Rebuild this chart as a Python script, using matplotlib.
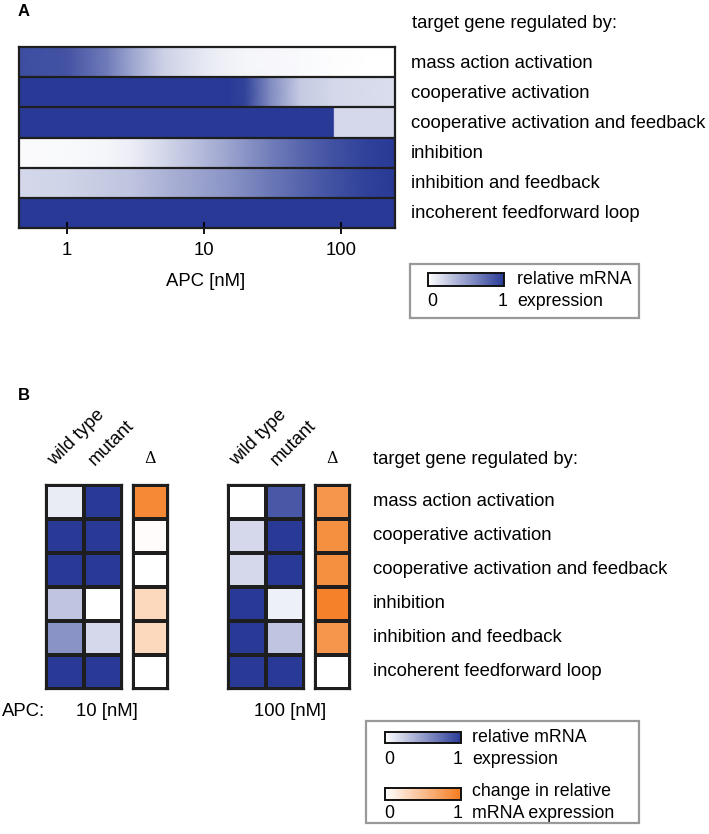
import numpy as np
import matplotlib
matplotlib.use('Agg')
import matplotlib.pyplot as plt
from matplotlib.colors import LinearSegmentedColormap, Normalize
from matplotlib.cm import ScalarMappable
from matplotlib.patches import Rectangle

plt.rcParams['font.family'] = ['Liberation Sans', 'DejaVu Sans']

# ---- data ----
row_labels = ['mass action activation', 'cooperative activation',
              'cooperative activation and feedback', 'inhibition',
              'inhibition and feedback', 'incoherent feedforward loop']

# panel A: relative mRNA expression vs APC [nM]
apc_conc = [0.447, 1, 2, 3, 5, 10, 15, 20, 30, 50, 88, 90, 150, 248]
expr_mass_action = [0.9, 0.87, 0.66, 0.45, 0.24, 0.11, 0.07, 0.05, 0.04, 0.03, 0.01, 0.01, 0.0, 0.0]
expr_coop = [1, 1, 1, 1, 1, 1, 1, 0.95, 0.6, 0.27, 0.2, 0.2, 0.18, 0.17]
expr_coop_fb = [1, 1, 1, 1, 1, 1, 1, 1, 1, 1, 1, 0.2, 0.2, 0.2]
expr_inhib = [0.02, 0.03, 0.05, 0.09, 0.2, 0.36, 0.46, 0.54, 0.65, 0.77, 0.88, 0.88, 0.96, 1.0]
expr_inhib_fb = [0.2, 0.22, 0.27, 0.3, 0.38, 0.48, 0.54, 0.6, 0.68, 0.78, 0.88, 0.88, 0.96, 1.0]
expr_iffl = [1] * 14
rows_A = [expr_mass_action, expr_coop, expr_coop_fb, expr_inhib, expr_inhib_fb, expr_iffl]

# panel B: wild type / mutant expression and change
wt_10 = [0.1, 1, 1, 0.3, 0.55, 1]
mut_10 = [1, 1, 1, 0.0, 0.2, 1]
delta_10 = [0.9, 0.02, 0.0, 0.3, 0.3, 0.0]
wt_100 = [0.0, 0.2, 0.2, 1, 1, 1]
mut_100 = [0.85, 1, 1, 0.08, 0.3, 1]
delta_100 = [0.8, 0.85, 0.85, 0.95, 0.8, 0.0]

blue = LinearSegmentedColormap.from_list('wb', ['#ffffff', '#283a96'])
orange = LinearSegmentedColormap.from_list('wo', ['#ffffff', '#f47c20'])

W, H = 709, 834
FS = 13.3   # main text
LFS = 12.8  # legend text
fig = plt.figure(figsize=(W / 100, H / 100), dpi=100)


def box(l, t, r, b):
    return [l / W, 1 - b / H, (r - l) / W, (b - t) / H]


def ftext(x, y, s, **kw):
    kw.setdefault('fontsize', FS)
    kw.setdefault('va', 'center')
    fig.text(x / W, 1 - y / H, s, **kw)


edge = '#1e1e1e'

# ---- panel A ----
ax = fig.add_axes(box(19, 47, 395, 228))
X = np.array([apc_conc, apc_conc])
for i, vals in enumerate(rows_A):
    Y = np.array([[i] * len(apc_conc), [i + 1] * len(apc_conc)])
    C = np.array([vals, vals])
    ax.pcolormesh(X, Y, C, shading='gouraud', cmap=blue, vmin=0, vmax=1)
for i in range(1, 6):
    ax.axhline(i, color=edge, lw=1.6)
ax.set_xscale('log')
ax.set_xlim(apc_conc[0], apc_conc[-1])
ax.set_ylim(6, 0)
ax.set_yticks([])
ax.set_xticks([1, 10, 100])
ax.set_xticklabels(['1', '10', '100'])
ax.minorticks_off()
ax.tick_params(axis='x', direction='inout', length=8, width=1.3, labelsize=FS, pad=6)
for s in ax.spines.values():
    s.set_linewidth(1.6)
    s.set_color(edge)

ftext(18, 11, 'A', fontweight='bold', fontsize=12)
ftext(206, 282, 'APC [nM]', ha='center')
ftext(412, 24, 'target gene regulated by:')
for i, lab in enumerate(row_labels):
    ftext(411, 63 + 30 * i, lab)

# legend A
fig.patches.append(Rectangle((410 / W, 1 - 318 / H), 229 / W, 54 / H,
                             transform=fig.transFigure, fill=False,
                             edgecolor='#999999', lw=1.6))


def colorbar_at(l, t, r, b, cmap):
    cax = fig.add_axes(box(l, t, r, b))
    cb = fig.colorbar(ScalarMappable(Normalize(0, 1), cmap), cax=cax, orientation='horizontal')
    cb.set_ticks([])
    cb.outline.set_linewidth(1.4)
    cb.outline.set_edgecolor('#111111')
    return cb


colorbar_at(428, 273, 504, 286, blue)
ftext(517, 280, 'relative mRNA', fontsize=LFS)
ftext(432, 302, '0', ha='center', fontsize=LFS)
ftext(503, 302, '1', ha='center', fontsize=LFS)
ftext(517, 302, 'expression', fontsize=LFS)

# ---- panel B ----
ftext(18, 396, 'B', fontweight='bold', fontsize=12)


def grid(l, r, cols, cmap):
    gax = fig.add_axes(box(l, 485, r, 689))
    data = np.array(cols).T
    gax.pcolormesh(data, cmap=cmap, vmin=0, vmax=1, edgecolors=edge, linewidth=1.6)
    gax.set_ylim(6, 0)
    gax.set_xticks([])
    gax.set_yticks([])
    for s in gax.spines.values():
        s.set_linewidth(1.6)
        s.set_color(edge)
    return gax


grid(46, 122, [wt_10, mut_10], blue)
grid(133, 168, [delta_10], orange)
grid(228, 304, [wt_100, mut_100], blue)
grid(315, 350, [delta_100], orange)

for x0 in (46, 228):
    for j, lab in enumerate(['wild type', 'mutant']):
        fig.text((x0 + 11 + 41 * j) / W, 1 - 469 / H, lab, rotation=45, rotation_mode='anchor',
                 ha='left', va='bottom', fontsize=FS)
for xc in (150, 332):
    ftext(xc, 467, '\u0394', ha='center', va='bottom', family=['DejaVu Serif'], fontsize=11.5)

ftext(2, 712, 'APC:')
ftext(107, 712, '10 [nM]', ha='center')
ftext(290, 712, '100 [nM]', ha='center')

ftext(373, 460, 'target gene regulated by:')
for i, lab in enumerate(row_labels):
    ftext(373, 502 + 34 * i, lab)

# legend B
fig.patches.append(Rectangle((366 / W, 1 - 823 / H), 273 / W, 102 / H,
                             transform=fig.transFigure, fill=False,
                             edgecolor='#999999', lw=1.6))
colorbar_at(385, 732, 461, 743, blue)
ftext(472, 737, 'relative mRNA', fontsize=LFS)
ftext(389, 759, '0', ha='center', fontsize=LFS)
ftext(458, 759, '1', ha='center', fontsize=LFS)
ftext(472, 759, 'expression', fontsize=LFS)
colorbar_at(385, 788, 461, 800, orange)
ftext(472, 791, 'change in relative', fontsize=LFS)
ftext(389, 813, '0', ha='center', fontsize=LFS)
ftext(458, 813, '1', ha='center', fontsize=LFS)
ftext(472, 813, 'mRNA expression', fontsize=LFS)

fig.savefig('out.png', dpi=100)
